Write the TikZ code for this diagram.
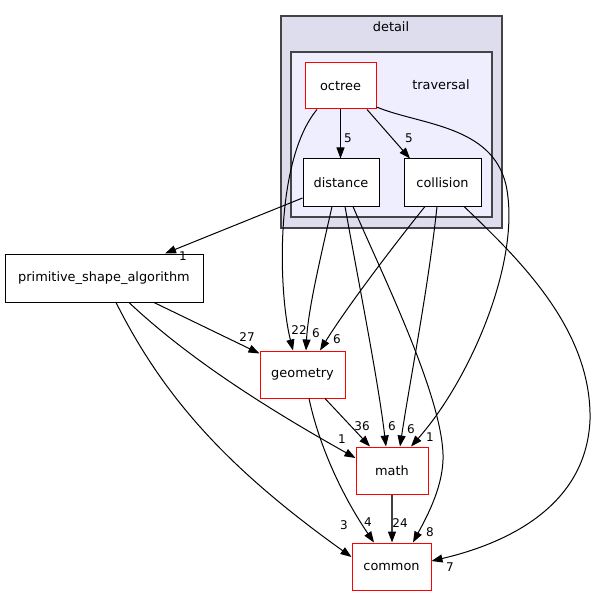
\documentclass[tikz,border=0pt]{standalone}
\usepackage{fontspec}
\setmainfont{DejaVu Sans}
\usetikzlibrary{arrows.meta}
\definecolor{clusterouter}{HTML}{DDDDEE}
\definecolor{clusterinner}{HTML}{EEEEFF}
\definecolor{clusterline}{HTML}{444444}
\definecolor{dirred}{HTML}{FF0000}
\definecolor{edgegrey}{HTML}{404040}
\begin{document}
\begin{tikzpicture}[x=1pt, y=-1pt,
    dirbox/.style={draw=black, fill=white, line width=1pt, inner sep=0pt,
      minimum height=47pt, font=\fontsize{12.9}{15}\selectfont},
    redbox/.style={dirbox, draw=dirred},
    dirlabel/.style={inner sep=0pt, font=\fontsize{12.9}{15}\selectfont},
    dep/.style={line width=1pt, -{Triangle[length=11pt,width=8pt]}},
    cnt/.style={inner sep=0pt, font=\fontsize{12}{14}\selectfont},
    cluster/.style={draw=clusterline, line width=1.4pt}]
    \useasboundingbox (0,0) rectangle (596,596);

    % detail / traversal clusters
    \draw[cluster, fill=clusterouter] (281,16) rectangle (502,228);
    \node[dirlabel] (detail) at (391,27) {detail};
    \draw[cluster, fill=clusterinner] (291,52) rectangle (492,217);
    \node[dirlabel] (traversal) at (441,85) {traversal};

    % directories
    \node[redbox, minimum width=71pt, minimum height=46pt] (octree) at (340.5,86) {octree};
    \node[dirbox, minimum width=76pt] (distance) at (341,182.5) {distance};
    \node[dirbox, minimum width=77pt] (collision) at (442.5,182.5) {collision};
    \node[dirbox, minimum width=198pt, minimum height=48pt] (psa) at (104,278) {primitive\_shape\_algorithm};
    \node[redbox, minimum width=85pt] (geometry) at (302.5,374.5) {geometry};
    \node[redbox, minimum width=72pt] (math) at (392,470.5) {math};
    \node[redbox, minimum width=79pt] (common) at (391.5,566.5) {common};

    % octree
    \draw[dep] (octree.south) -- (octree.south |- distance.north);
    \draw[dep] ([xshift=26.5pt]octree.south) -- ([xshift=-32.5pt]collision.north);
    \draw[dep] ([xshift=-23.5pt]octree.south) .. controls (275,160) and (278,290) .. ([xshift=-9.5pt]geometry.north);
    \draw[dep] ([yshift=-21pt]octree.east) .. controls (420,125) and (492,125) .. (506,185)
      .. controls (522,260) and (470,380) .. ([xshift=19pt]math.north);

    % distance
    \draw[dep] ([yshift=-15.5pt]distance.west) -- ([xshift=61pt]psa.north);
    \draw[dep] ([xshift=-9pt]distance.south) .. controls (320,260) and (308,310) .. ([xshift=3.5pt]geometry.north);
    \draw[dep] ([xshift=4pt]distance.south) .. controls (360,290) and (378,380) .. ([xshift=-6pt]math.north);
    \draw[dep] ([xshift=12pt]distance.south) .. controls (380,270) and (445,400) .. (443,460)
      .. controls (442,490) and (425,520) .. ([xshift=21.5pt]common.north);

    % collision
    \draw[dep] ([xshift=-17.5pt]collision.south) .. controls (390,250) and (345,310) .. ([xshift=17.5pt]geometry.north);
    \draw[dep] ([xshift=-5.5pt]collision.south) .. controls (428,290) and (410,380) .. ([xshift=8pt]math.north);
    \draw[dep] ([xshift=21.5pt]collision.south) .. controls (520,260) and (592,330) .. (590,420)
      .. controls (586,510) and (500,545) .. ([yshift=5.5pt]common.east);

    % primitive_shape_algorithm
    \draw[dep] ([xshift=50pt]psa.south) -- ([yshift=-3pt]geometry.north west);
    \draw[dep] ([xshift=25pt]psa.south) .. controls (190,360) and (270,410) .. ([yshift=12.5pt]math.west);
    \draw[dep] ([xshift=12pt]psa.south) .. controls (165,400) and (230,470) .. ([yshift=9.5pt]common.west);

    % geometry, math
    \draw[dep] ([xshift=6.5pt]geometry.south) .. controls (320,450) and (345,500) .. ([xshift=-17.5pt]common.north);
    \draw[dep] ([xshift=22.5pt]geometry.south) -- ([xshift=-22pt]math.north);
    \draw[dep, draw=edgegrey, line width=1.3pt, -{Triangle[length=11pt,width=8pt,color=black]}]
      (math.south) -- (math.south |- common.north);

    % dependency counts
    \node[cnt] (n1) at (348,138) {5};
    \node[cnt] (n2) at (409,138) {5};
    \node[cnt] (n3) at (299,330) {22};
    \node[cnt] (n4) at (430,437) {1};
    \node[cnt] (n5) at (183,256) {1};
    \node[cnt] (n6) at (316,333) {6};
    \node[cnt] (n7) at (392,426) {6};
    \node[cnt] (n8) at (430,532) {8};
    \node[cnt] (n9) at (337,339) {6};
    \node[cnt] (n10) at (411,429) {6};
    \node[cnt] (n11) at (450,567) {7};
    \node[cnt] (n12) at (247,337) {27};
    \node[cnt] (n13) at (342,439) {1};
    \node[cnt] (n14) at (344,525) {3};
    \node[cnt] (n15) at (368,522) {4};
    \node[cnt] (n16) at (362,426) {36};
    \node[cnt] (n17) at (400,523) {24};
\end{tikzpicture}
\end{document}
